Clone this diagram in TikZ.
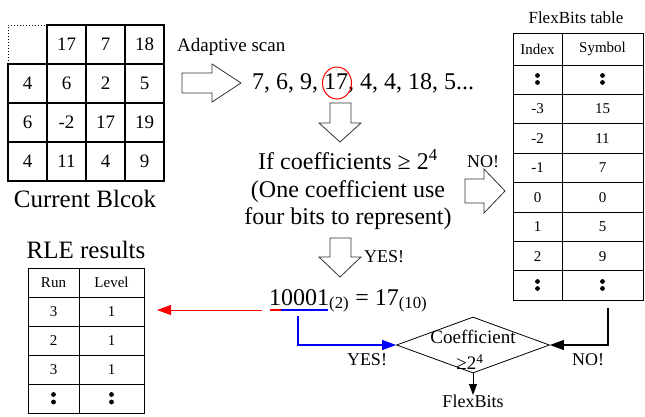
\documentclass[tikz,border=0pt]{standalone}
\usepackage{fontspec}
\setmainfont{Liberation Serif}
\usetikzlibrary{shapes.geometric,arrows.meta}
\begin{document}
\begin{tikzpicture}[x=1pt,y=-1pt,
  cell/.style={draw,line width=1.3pt,minimum width=39pt,minimum height=39pt,inner sep=0pt,font=\fontsize{19}{19}\selectfont},
  ttxt/.style={inner sep=0pt,font=\fontsize{15}{15}\selectfont},
  rtxt/.style={inner sep=0pt,font=\fontsize{15}{15}\selectfont},
  hollow/.style={draw=black!80,line width=0.8pt,fill=white},
  lbl/.style={inner sep=0pt,font=\fontsize{18}{18}\selectfont},
  big/.style={inner sep=0pt,font=\fontsize{24}{24}\selectfont},
  tip/.style={-{Triangle[length=14pt,width=10pt]}},
  dotsym/.style={fill=black}
]
\useasboundingbox (0,0) rectangle (645,416);

% ---------- current block ----------
\draw[dotted,line width=1pt] (8,64) -- (8,25) -- (47,25);
\foreach \v [count=\i] in {17,7,18}
  \node[cell] (ca\i) at ({27.5+39*\i},44.5) {\v};
\foreach \v [count=\i from 0] in {4,6,2,5}
  \node[cell] (cb\i) at ({27.5+39*\i},83.5) {\v};
\foreach \v [count=\i from 0] in {6,-2,17,19}
  \node[cell] (cc\i) at ({27.5+39*\i},122.5) {\v};
\foreach \v [count=\i from 0] in {4,11,4,9}
  \node[cell] (cd\i) at ({27.5+39*\i},161.5) {\v};
\node[big,font=\fontsize{25}{25}\selectfont] (cbtitle) at (85,199) {Current Blcok};

% ---------- adaptive scan ----------
\node[inner sep=0pt,anchor=west,font=\fontsize{19}{19}\selectfont] (scanlbl) at (177,47) {Adaptive scan};
\draw[hollow] (182,73) -- (212,73) -- (212,64) -- (241,83) -- (212,102) -- (212,93) -- (182,93) -- cycle;
\node[inner sep=0pt,anchor=west,font=\fontsize{24}{24}\selectfont] (seq) at (252,83) {7, 6, 9, 17, 4, 4, 18, 5...};
\draw[red,line width=1pt] (337,83) ellipse [x radius=14.5pt,y radius=16pt];

% down arrow 1
\draw[hollow] (330,103) -- (351,103) -- (351,123) -- (361,123) -- (340,142) -- (319,123) -- (330,123) -- cycle;

\node[big] (cond1) at (348,160) {If coefficients ≥ 2\textsuperscript{4}};
\node[big] (cond2) at (348,192) {(One coefficient use};
\node[big] (cond3) at (348,219) {four bits to represent)};

% NO arrow to table
\node[lbl] (nolbl) at (483,162) {NO!};
\draw[hollow] (465,179) -- (484,179) -- (484,169) -- (505,191) -- (484,213) -- (484,203) -- (465,203) -- cycle;

% ---------- FlexBits table ----------
\node[inner sep=0pt,font=\fontsize{17}{17}\selectfont] (fbtitle) at (576,18) {FlexBits table};
\draw[line width=0.8pt] (513,33) rectangle (643,300.2);
\draw[line width=0.8pt] (562,33) -- (562,300.2);
\foreach \y in {65,94.4,123.8,153.2,182.6,212,241.4,270.8}
  \draw[line width=0.8pt] (513,\y) -- (643,\y);
\node[ttxt] (fbh1) at (537.5,49) {Index};
\node[ttxt] (fbh2) at (602.5,49) {Symbol};
\foreach \a/\b [count=\k] in {-3/15,-2/11,-1/7,0/0,1/5,2/9}{
  \node[ttxt] (fbi\k) at (537.5,{79.7+29.4*\k}) {\a};
  \node[ttxt] (fbs\k) at (602.5,{79.7+29.4*\k}) {\b};
}
\foreach \x in {537.5,602.5}{
  \fill[dotsym] (\x,75.5) circle (2.4pt);
  \fill[dotsym] (\x,82.5) circle (2.4pt);
  \fill[dotsym] (\x,281.5) circle (2.4pt);
  \fill[dotsym] (\x,288.5) circle (2.4pt);
}

% ---------- YES arrow down ----------
\draw[hollow] (330,238) -- (351,238) -- (351,257) -- (361,257) -- (340,277) -- (319,257) -- (330,257) -- cycle;
\node[lbl,anchor=west] (yes1) at (364,257) {YES!};

% ---------- binary value ----------
\node[inner sep=0pt,anchor=base west,font=\fontsize{24}{24}\selectfont] (bin) at (269,305) {10001\textsubscript{(2)} = 17\textsubscript{(10)}};
\draw[red,line width=1.2pt] (270,310) -- (281,310);
\draw[blue,line width=1.2pt] (281,310) -- (328,310);
\coordinate (redstart) at (262,310);
\coordinate (bluestart) at (298,316);

% ---------- RLE results ----------
\node[big,font=\fontsize{25}{25}\selectfont] (rletitle) at (86,250) {RLE results};
\draw[line width=0.8pt] (28,268) rectangle (144,413);
\draw[line width=0.8pt] (79,268) -- (79,413);
\foreach \y in {297,326,355,384}
  \draw[line width=0.8pt] (28,\y) -- (144,\y);
\node[rtxt] (rh1) at (53.5,282.5) {Run};
\node[rtxt] (rh2) at (111.5,282.5) {Level};
\foreach \a/\b [count=\k] in {3/1,2/1,3/1}{
  \node[rtxt] (rr\k) at (53.5,{282.5+29*\k}) {\a};
  \node[rtxt] (rl\k) at (111.5,{282.5+29*\k}) {\b};
}
\foreach \x in {53.5,111.5}{
  \fill[dotsym] (\x,394.5) circle (2.4pt);
  \fill[dotsym] (\x,402) circle (2.4pt);
}
\coordinate (rleend) at (157,310);
\draw[red,line width=1pt,tip] (redstart) -- (rleend);

% ---------- decision diamond ----------
\node[draw,diamond,line width=0.8pt,minimum width=153pt,minimum height=56pt,inner sep=0pt] (dia) at (473,345) {};
\node[inner sep=0pt,font=\fontsize{19}{19}\selectfont] (dt1) at (473,337) {Coefficient};
\node[inner sep=0pt,font=\fontsize{19}{19}\selectfont] (dt2) at (470,362) {≥2\textsuperscript{4}};
\draw[blue,line width=1.2pt,tip] (bluestart) |- (dia.west);
\node[lbl] (yes2) at (367,360) {YES!};
\coordinate (tabbot) at (608,308);
\draw[line width=1.2pt,tip] (tabbot) |- (dia.east);
\node[lbl] (no2) at (588,360) {NO!};
\node[lbl,anchor=north] (flex) at (473,395) {FlexBits};
\draw[line width=1pt,-{Triangle[length=11pt,width=8pt]}] (dia.south) -- (flex.north);
\end{tikzpicture}
\end{document}
